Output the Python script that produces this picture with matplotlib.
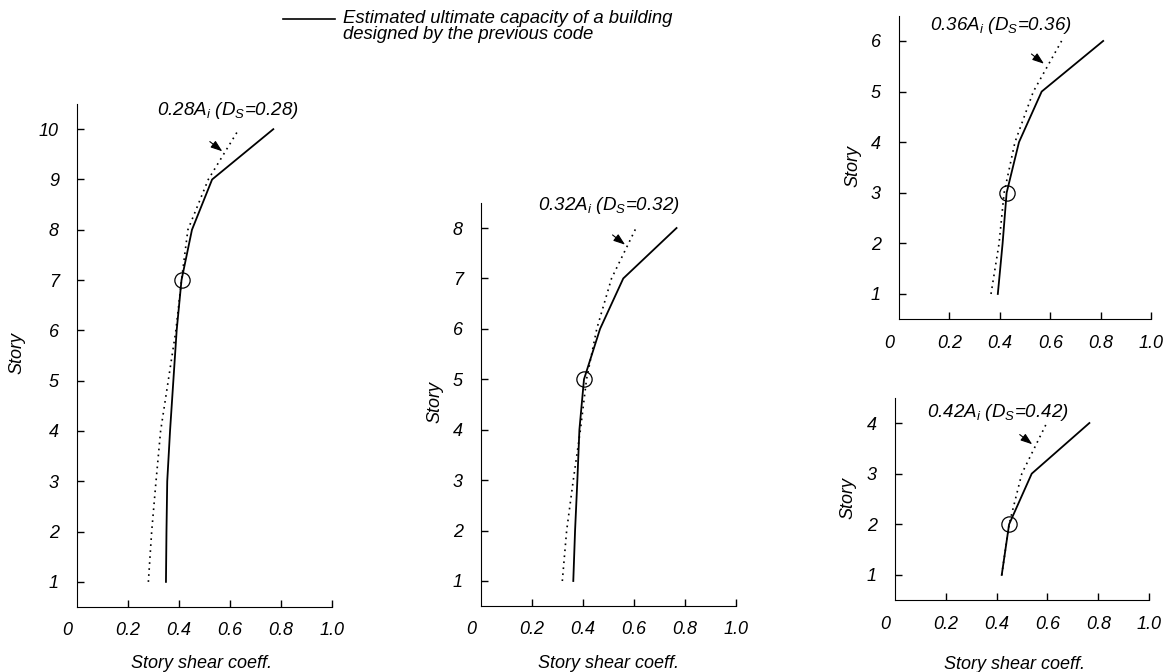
import matplotlib
matplotlib.use("Agg")
import matplotlib.pyplot as plt  # type: ignore
from matplotlib.lines import Line2D

plt.rcParams["font.family"] = ["Liberation Sans", "DejaVu Sans"]
plt.rcParams["font.style"] = "italic"
plt.rcParams["mathtext.fontset"] = "custom"
plt.rcParams["mathtext.it"] = "Liberation Sans:italic"
plt.rcParams["mathtext.rm"] = "Liberation Sans:italic"

# story numbers for each building
stories_10 = [1, 2, 3, 4, 5, 6, 7, 8, 9, 10]
stories_8 = [1, 2, 3, 4, 5, 6, 7, 8]
stories_6 = [1, 2, 3, 4, 5, 6]
stories_4 = [1, 2, 3, 4]

# estimated ultimate capacity (solid)
capacity_10 = [0.349, 0.351, 0.354, 0.365, 0.378, 0.391, 0.41, 0.451, 0.53, 0.77]
capacity_8 = [0.362, 0.369, 0.378, 0.386, 0.404, 0.467, 0.558, 0.767]
capacity_6 = [0.392, 0.411, 0.427, 0.476, 0.566, 0.81]
capacity_4 = [0.42, 0.449, 0.538, 0.765]

# required Ds * Ai (dotted)
required_10 = [0.28, 0.293, 0.31, 0.328, 0.358, 0.388, 0.41, 0.435, 0.515, 0.635]
required_8 = [0.319, 0.336, 0.362, 0.39, 0.414, 0.454, 0.512, 0.608]
required_6 = [0.365, 0.397, 0.417, 0.46, 0.533, 0.645]
required_4 = [0.42, 0.449, 0.499, 0.597]

# story where the capacity first meets the requirement
hinge_story = [7, 5, 3, 2]
hinge_coeff = [0.41, 0.404, 0.427, 0.449]

ds_values = ["0.28", "0.32", "0.36", "0.42"]
x_ticks = [0.2, 0.4, 0.6, 0.8, 1.0]
x_ticklabels = ["0.2", "0.4", "0.6", "0.8", "1.0"]


def _style_axes(ax, n_story, show_xlabel, ylabel_x, xlabel_xy):
    ax.set_xlim(0, 1.0)
    ax.set_ylim(0.5, n_story + 0.5)
    ax.spines["top"].set_visible(False)
    ax.spines["right"].set_visible(False)
    ax.set_yticks(range(1, n_story + 1))
    ax.set_xticks(x_ticks)
    ax.set_xticklabels(x_ticklabels)
    ax.tick_params(axis="both", direction="in", length=5, width=1, labelsize=13)
    ax.tick_params(axis="y", pad=13)
    ax.tick_params(axis="x", pad=11)
    ax.annotate("0", xy=(0, 0), xycoords="axes fraction", xytext=(-7, -11),
                textcoords="offset points", ha="center", va="top", fontsize=13)
    ax.set_ylabel("Story", fontsize=13)
    ax.yaxis.set_label_coords(ylabel_x, 0.505)
    if show_xlabel:
        ax.set_xlabel("Story shear coeff.", fontsize=13)
        ax.xaxis.set_label_coords(*xlabel_xy)


def _draw_panel(ax, stories, capacity, required, k, title_xy, arrow_xy):
    ax.plot(capacity, stories, color="black", lw=1.3)
    ax.plot(required, stories, color="black", lw=1.2, linestyle=(0, (1, 2.6)))
    ax.plot(hinge_coeff[k], hinge_story[k], "o", ms=11, mfc="none", mec="black", mew=0.9)
    ds = ds_values[k]
    ax.text(title_xy[0], title_xy[1], ds + "A$_i$ (D$_S$=" + ds + ")",
            ha="left", va="baseline", fontsize=13.5, clip_on=False)
    ax.annotate("", xy=arrow_xy, xytext=(-9, 7), textcoords="offset points",
                arrowprops=dict(arrowstyle="-|>,head_length=0.7,head_width=0.25",
                                color="black", lw=0.8, shrinkA=0, shrinkB=0))


fig = plt.figure(figsize=(11.68, 6.72), dpi=100)

ax1 = fig.add_axes([0.0659, 0.0967, 0.2183, 0.7485])
ax2 = fig.add_axes([0.4118, 0.0979, 0.2183, 0.6003])
ax3 = fig.add_axes([0.7697, 0.5249, 0.2158, 0.4518])
ax4 = fig.add_axes([0.7663, 0.1067, 0.2175, 0.3015])

_draw_panel(ax1, stories_10, capacity_10, required_10, 0, (0.312, 10.29), (0.57, 9.56))
_draw_panel(ax2, stories_8, capacity_8, required_8, 1, (0.225, 8.36), (0.565, 7.67))
_draw_panel(ax3, stories_6, capacity_6, required_6, 2, (0.123, 6.22), (0.575, 5.55))
_draw_panel(ax4, stories_4, capacity_4, required_4, 3, (0.127, 4.125), (0.54, 3.58))

_style_axes(ax1, 10, True, -0.2, (0.49, -0.095))
_style_axes(ax2, 8, True, -0.149, (0.5, -0.122))
_style_axes(ax3, 6, False, -0.147, None)
_style_axes(ax4, 4, True, -0.15, (0.47, -0.276))

# legend for the solid line
fig.add_artist(Line2D([283 / 1168, 335 / 1168], [1 - 19 / 672, 1 - 19 / 672],
                      color="black", lw=1.2))
fig.text(343 / 1168, 1 - 10 / 672,
         "Estimated ultimate capacity of a building\ndesigned by the previous code",
         ha="left", va="top", fontsize=13.3, linespacing=0.95)

fig.savefig("out.png", dpi=100)
